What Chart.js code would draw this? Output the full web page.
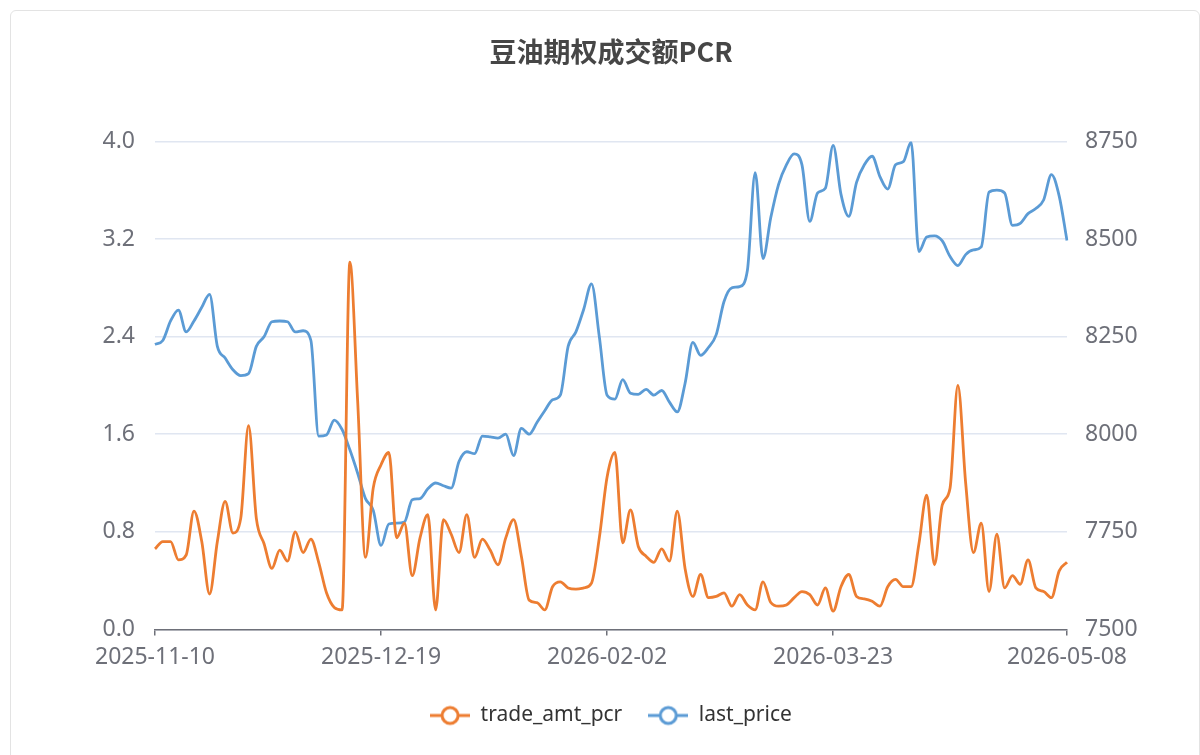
<!DOCTYPE html>
<html>
<head>
<meta charset="utf-8">
<script src="https://cdn.jsdelivr.net/npm/chart.js@4.4.1/dist/chart.umd.min.js"></script>
<style>
  html, body { margin: 0; padding: 0; background: #fff; }
  body { width: 1200px; height: 755px; position: relative; overflow: hidden; }
  .card {
    position: absolute; left: 10px; top: 10px; width: 1190px; height: 770px;
    border: 1px solid #e3e3e3; border-radius: 6px; box-sizing: border-box;
  }
  #chart { position: absolute; left: 0; top: 0; }
</style>
</head>
<body>
<div class="card"></div>
<canvas id="chart" width="1200" height="755"></canvas>
<script>
// trading days on the category axis
const dates = [
  '2025-11-10','2025-11-11','2025-11-12','2025-11-13','2025-11-14','2025-11-17','2025-11-18','2025-11-19','2025-11-20','2025-11-21',
  '2025-11-24','2025-11-25','2025-11-26','2025-11-27','2025-11-28','2025-12-01','2025-12-02','2025-12-03','2025-12-04','2025-12-05',
  '2025-12-08','2025-12-09','2025-12-10','2025-12-11','2025-12-12','2025-12-15','2025-12-16','2025-12-17','2025-12-18','2025-12-19',
  '2025-12-22','2025-12-23','2025-12-24','2025-12-25','2025-12-26','2025-12-29','2025-12-30','2025-12-31','2026-01-05','2026-01-06',
  '2026-01-07','2026-01-08','2026-01-09','2026-01-12','2026-01-13','2026-01-14','2026-01-15','2026-01-16','2026-01-19','2026-01-20',
  '2026-01-21','2026-01-22','2026-01-23','2026-01-26','2026-01-27','2026-01-28','2026-01-29','2026-01-30','2026-02-02','2026-02-03',
  '2026-02-04','2026-02-05','2026-02-06','2026-02-09','2026-02-10','2026-02-11','2026-02-12','2026-02-13','2026-02-24','2026-02-25',
  '2026-02-26','2026-02-27','2026-03-02','2026-03-03','2026-03-04','2026-03-05','2026-03-06','2026-03-09','2026-03-10','2026-03-11',
  '2026-03-12','2026-03-13','2026-03-16','2026-03-17','2026-03-18','2026-03-19','2026-03-20','2026-03-23','2026-03-24','2026-03-25',
  '2026-03-26','2026-03-27','2026-03-30','2026-03-31','2026-04-01','2026-04-02','2026-04-03','2026-04-07','2026-04-08','2026-04-09',
  '2026-04-10','2026-04-13','2026-04-14','2026-04-15','2026-04-16','2026-04-17','2026-04-20','2026-04-21','2026-04-22','2026-04-23',
  '2026-04-24','2026-04-27','2026-04-28','2026-04-29','2026-04-30','2026-05-06','2026-05-07','2026-05-08'
];

const tradeAmtPcr = [
  0.66, 0.72, 0.72, 0.57, 0.61, 0.97, 0.72, 0.29, 0.72, 1.05,
  0.79, 0.91, 1.67, 0.91, 0.70, 0.50, 0.65, 0.56, 0.80, 0.63,
  0.74, 0.55, 0.30, 0.18, 0.16, 3.01, 1.87, 0.59, 1.16, 1.35,
  1.45, 0.75, 0.87, 0.44, 0.75, 0.94, 0.16, 0.90, 0.78, 0.63,
  0.94, 0.59, 0.74, 0.65, 0.53, 0.75, 0.90, 0.60, 0.24, 0.22,
  0.16, 0.35, 0.39, 0.34, 0.33, 0.34, 0.38, 0.75, 1.25, 1.45,
  0.71, 0.98, 0.68, 0.60, 0.55, 0.66, 0.56, 0.97, 0.50, 0.27,
  0.45, 0.26, 0.27, 0.30, 0.19, 0.285, 0.20, 0.16, 0.39, 0.22,
  0.19, 0.20, 0.26, 0.31, 0.285, 0.20, 0.34, 0.15, 0.35, 0.45,
  0.27, 0.25, 0.23, 0.19, 0.35, 0.41, 0.35, 0.35, 0.70, 1.10,
  0.53, 1.02, 1.16, 2.00, 1.20, 0.63, 0.87, 0.31, 0.78, 0.34,
  0.44, 0.37, 0.57, 0.34, 0.31, 0.26, 0.48, 0.55
];

const lastPrice = [
  8230, 8240, 8290, 8318, 8262, 8290, 8325, 8358, 8225, 8195,
  8165, 8150, 8155, 8225, 8250, 8288, 8290, 8288, 8262, 8265,
  8240, 7995, 7998, 8036, 8012, 7960, 7900, 7835, 7805, 7715,
  7770, 7772, 7775, 7832, 7835, 7860, 7875, 7868, 7862, 7930,
  7955, 7950, 7995, 7993, 7990, 8000, 7945, 8015, 8000, 8030,
  8060, 8088, 8100, 8225, 8262, 8320, 8385, 8250, 8100, 8090,
  8140, 8105, 8102, 8115, 8100, 8112, 8082, 8057, 8130, 8235,
  8202, 8222, 8255, 8340, 8375, 8378, 8420, 8670, 8450, 8555,
  8640, 8690, 8718, 8690, 8545, 8618, 8630, 8740, 8615, 8558,
  8645, 8690, 8712, 8660, 8628, 8690, 8698, 8748, 8468, 8505,
  8508, 8495, 8455, 8432, 8460, 8472, 8480, 8620, 8625, 8618,
  8535, 8540, 8565, 8578, 8600, 8665, 8610, 8496
];

const leftTicks = [0, 0.8, 1.6, 2.4, 3.2, 4.0];
const rightTicks = [7500, 7750, 8000, 8250, 8500, 8750];

const ORANGE = '#ED7D31';
const BLUE = '#5B9BD5';
const AXIS_TEXT = '#6E7079';
const FONT = "'Noto Sans', 'Noto Sans CJK SC', sans-serif";

// legend icon: line with hollow circle
function makeIcon(color) {
  const c = document.createElement('canvas');
  c.width = 40; c.height = 22;
  const g = c.getContext('2d');
  g.strokeStyle = color;
  g.lineWidth = 3;
  g.beginPath(); g.moveTo(0, 11); g.lineTo(40, 11); g.stroke();
  g.beginPath(); g.arc(20, 11, 8, 0, Math.PI * 2);
  g.fillStyle = '#fff'; g.fill(); g.stroke();
  return c;
}

const lastIdx = dates.length - 1;

new Chart(document.getElementById('chart'), {
  type: 'line',
  data: {
    labels: dates,
    datasets: [
      {
        label: 'trade_amt_pcr',
        data: tradeAmtPcr,
        yAxisID: 'y',
        borderColor: ORANGE,
        backgroundColor: ORANGE,
        borderWidth: 2.8,
        pointRadius: 0,
        cubicInterpolationMode: 'monotone',
        legendIcon: makeIcon(ORANGE)
      },
      {
        label: 'last_price',
        data: lastPrice,
        yAxisID: 'y1',
        borderColor: BLUE,
        backgroundColor: BLUE,
        borderWidth: 2.8,
        pointRadius: 0,
        cubicInterpolationMode: 'monotone',
        legendIcon: makeIcon(BLUE)
      }
    ]
  },
  options: {
    responsive: false,
    animation: false,
    devicePixelRatio: 1,
    layout: { padding: { left: 22, right: 0, top: 0, bottom: 19 } },
    plugins: {
      title: {
        display: true,
        text: '豆油期权成交额PCR',
        color: '#464646',
        font: { family: "'Noto Sans CJK SC', sans-serif", size: 27, weight: 'bold' },
        padding: { top: 36, bottom: 73 }
      },
      legend: {
        position: 'bottom',
        labels: {
          usePointStyle: true,
          pointStyleWidth: 40,
          boxHeight: 20,
          padding: 26,
          color: '#333',
          font: { family: FONT, size: 21 },
          generateLabels: (chart) => chart.data.datasets.map((ds, i) => ({
            text: ds.label,
            pointStyle: ds.legendIcon,
            fillStyle: '#fff',
            strokeStyle: ds.borderColor,
            lineWidth: 0,
            hidden: false,
            datasetIndex: i,
            fontColor: '#333'
          }))
        }
      },
      tooltip: { enabled: false }
    },
    scales: {
      x: {
        type: 'category',
        offset: false,
        border: { display: true, color: AXIS_TEXT, width: 1.5 },
        grid: { drawOnChartArea: false, drawTicks: true, tickLength: 6, color: AXIS_TEXT, lineWidth: 1.5 },
        ticks: {
          autoSkip: false,
          maxRotation: 0,
          padding: 8,
          color: AXIS_TEXT,
          font: { family: FONT, size: 23 },
          callback: function (val, index) {
            if (index % 29 === 0 || index === lastIdx) {
              return index === 116 ? null : this.getLabelForValue(val);
            }
            return null;
          }
        }
      },
      y: {
        position: 'left',
        min: leftTicks[0],
        max: leftTicks[leftTicks.length - 1],
        border: { display: false },
        grid: { color: '#E0E6F1', lineWidth: 1.5, drawTicks: false },
        ticks: {
          stepSize: leftTicks[1] - leftTicks[0],
          padding: 20,
          color: AXIS_TEXT,
          font: { family: FONT, size: 23 },
          callback: (v) => Number(v).toFixed(1)
        },
        afterFit: (scale) => { scale.width = 133; }
      },
      y1: {
        position: 'right',
        min: rightTicks[0],
        max: rightTicks[rightTicks.length - 1],
        border: { display: false },
        grid: { display: false, drawTicks: false },
        ticks: {
          stepSize: rightTicks[1] - rightTicks[0],
          padding: 18,
          color: AXIS_TEXT,
          font: { family: FONT, size: 23 },
          callback: (v) => String(v)
        },
        afterFit: (scale) => { scale.width = 133; }
      }
    }
  }
});
</script>
</body>
</html>
